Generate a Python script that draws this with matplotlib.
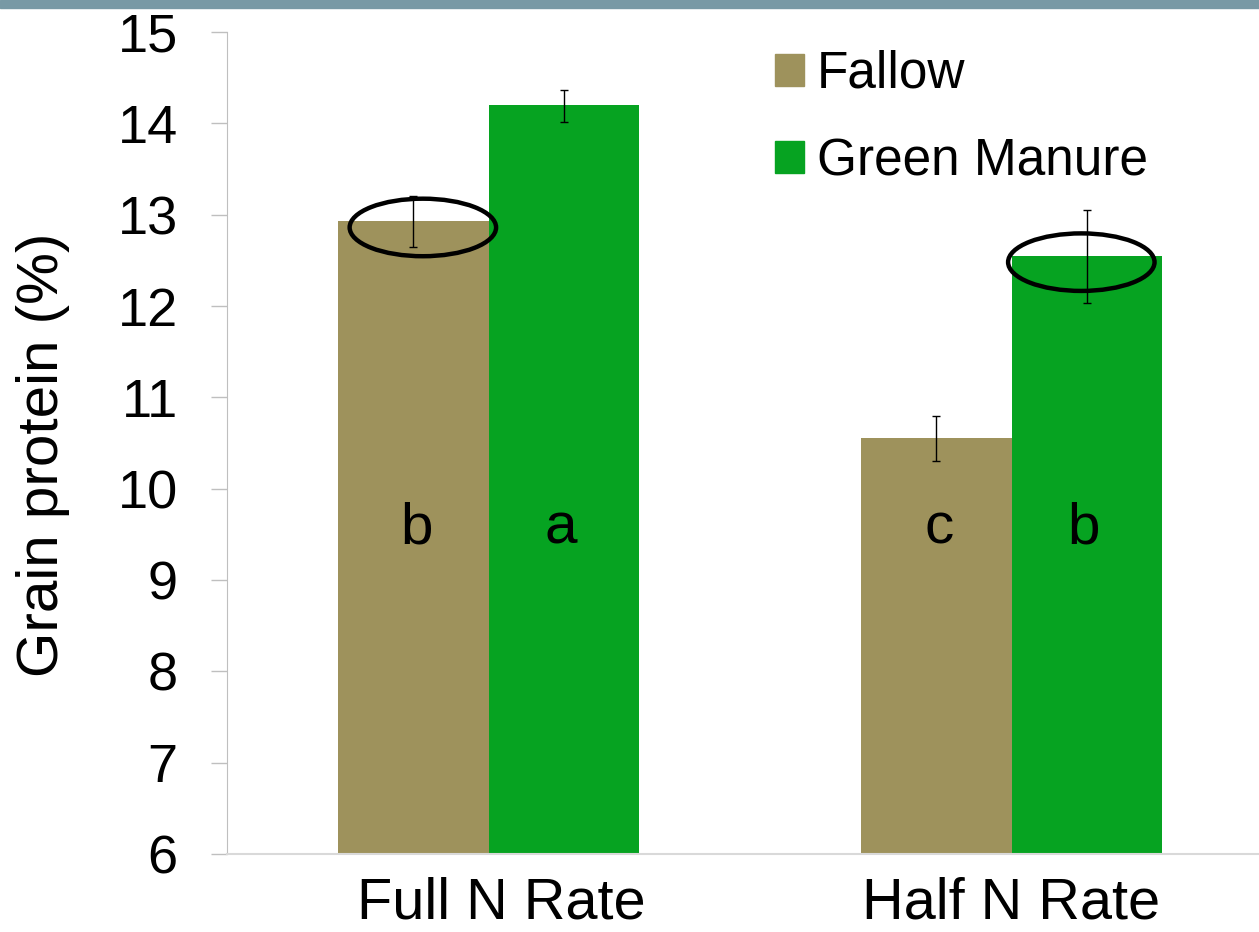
import matplotlib
matplotlib.use("Agg")
import matplotlib.pyplot as plt
from matplotlib.patches import Ellipse, Rectangle, Patch
import matplotlib.transforms as mtransforms
import numpy as np

plt.rcParams['font.family'] = ['Liberation Sans', 'DejaVu Sans']

# ---- data ----
groups = ["Full N Rate", "Half N Rate"]
series = ["Fallow", "Green Manure"]
fallow = [12.93, 10.55]
green = [14.20, 12.55]
fallow_err_low = [0.28, 0.25]
fallow_err_high = [0.27, 0.25]
green_err_low = [0.18, 0.52]
green_err_high = [0.17, 0.50]
fallow_letters = ["b", "c"]
green_letters = ["a", "b"]
y_ticks = [6, 7, 8, 9, 10, 11, 12, 13, 14, 15]
colors = ["#9E925C", "#06A321"]

W, H = 1259, 932
fig = plt.figure(figsize=(W / 100, H / 100), dpi=100)
fig.patches.append(Rectangle((0, 1 - 8 / H), 1, 8 / H, transform=fig.transFigure,
                             color="#7899A5", zorder=0))

ax = fig.add_axes([227 / W, (H - 854) / H, 1046 / W, (854 - 32) / H])
x = np.arange(len(groups))
w = 0.287
ax.bar(x - w / 2, fallow, w, color=colors[0], label=series[0], zorder=2)
ax.bar(x + w / 2, green, w, color=colors[1], label=series[1], zorder=2)
ax.errorbar(x - w / 2, fallow, yerr=[fallow_err_low, fallow_err_high], fmt='none',
            ecolor='black', elinewidth=1, capsize=3, capthick=1, zorder=3)
ax.errorbar(x + w / 2, green, yerr=[green_err_low, green_err_high], fmt='none',
            ecolor='black', elinewidth=1, capsize=3, capthick=1, zorder=3)

for xi, t in zip(x - w / 2, fallow_letters):
    ax.text(xi + 0.006, 9.4, t, ha='center', va='baseline', fontsize=42, zorder=4)
for xi, t in zip(x + w / 2, green_letters):
    ax.text(xi - 0.005, 9.4, t, ha='center', va='baseline', fontsize=42, zorder=4)

# highlight ellipses around the top of two bars
ell_x = [x[0] - w / 2 + 0.018, x[1] + w / 2 - 0.01]
ell_y = [fallow[0] - 0.07, green[1] - 0.07]
for ex, ey in zip(ell_x, ell_y):
    ax.add_patch(Ellipse((ex, ey), 0.28, 0.63, fill=False, edgecolor='black',
                         linewidth=3.2, zorder=5, clip_on=False))

ax.set_xlim(-0.5, 1.5)
ax.set_ylim(6, 15)
ax.set_yticks(y_ticks)
ax.set_xticks(x)
ax.set_xticklabels(groups)
ax.tick_params(axis='y', length=11.5, width=1, color='#BFBFBF', pad=24, labelsize=39)
ax.tick_params(axis='x', length=0, pad=16, labelsize=41.5)
# first category label sits slightly right of centre in the reference
lbl0 = ax.get_xticklabels()[0]
lbl0.set_transform(lbl0.get_transform() +
                   mtransforms.ScaledTranslation(13 / 100, 0, fig.dpi_scale_trans))
for s in ['top', 'right']:
    ax.spines[s].set_visible(False)
ax.spines['left'].set_color('#BFBFBF')
ax.spines['bottom'].set_color('#D9D9D9')
ax.spines['bottom'].set_linewidth(1.5)

fig.text(43 / W, 1 - 455 / H, "Grain protein (%)", rotation=90, ha='center',
         va='center', fontsize=42)

handles = [Patch(color=colors[0]), Patch(color=colors[1])]
ax.legend(handles, series, loc='upper left', bbox_to_anchor=(775 / W, 1 - 50 / H),
          bbox_transform=fig.transFigure, frameon=False, fontsize=37,
          handlelength=0.57, handleheight=0.57, handletextpad=0.25,
          labelspacing=0.74, borderpad=0, borderaxespad=0)

fig.savefig("out.png", dpi=100)
